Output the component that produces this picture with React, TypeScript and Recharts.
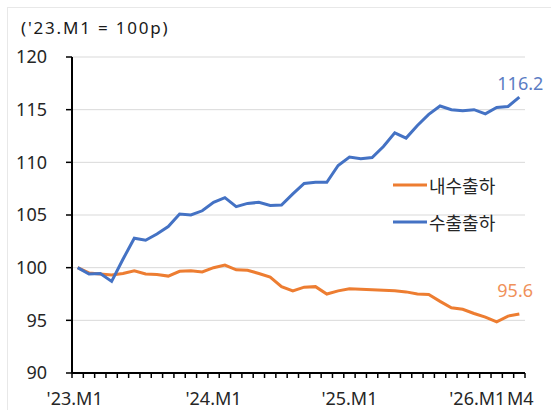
import React from "react";
import { LineChart, Line, XAxis, YAxis, CartesianGrid } from "recharts";

const months = [
  "23.01","23.02","23.03","23.04","23.05","23.06","23.07","23.08","23.09","23.10","23.11","23.12",
  "24.01","24.02","24.03","24.04","24.05","24.06","24.07","24.08","24.09","24.10","24.11","24.12",
  "25.01","25.02","25.03","25.04","25.05","25.06","25.07","25.08","25.09","25.10","25.11","25.12",
  "26.01","26.02","26.03","26.04",
];

const domestic = [
  100, 99.5, 99.4, 99.3, 99.45, 99.7, 99.4, 99.35, 99.2, 99.65, 99.7, 99.6,
  100.0, 100.25, 99.8, 99.75, 99.45, 99.1, 98.2, 97.8, 98.15, 98.2, 97.5, 97.8,
  98.0, 97.95, 97.9, 97.85, 97.8, 97.7, 97.5, 97.45, 96.8, 96.2, 96.05, 95.65,
  95.3, 94.85, 95.4, 95.6,
];

const exports_ = [
  100, 99.4, 99.45, 98.7, 100.8, 102.8, 102.6, 103.2, 103.9, 105.1, 105.0, 105.4,
  106.2, 106.65, 105.8, 106.1, 106.2, 105.9, 105.95, 107.0, 108.0, 108.1, 108.1, 109.7,
  110.5, 110.35, 110.45, 111.5, 112.8, 112.3, 113.5, 114.55, 115.35, 115.0, 114.9, 115.0,
  114.6, 115.2, 115.3, 116.2,
];

const seriesNames = ["내수출하", "수출출하"];
const seriesColors = ["#ED7D31", "#4472C4"];
const labelColors = ["#F0915A", "#5B7DC4"];

const tickLabels = ["'23.M1", "'24.M1", "'25.M1", "'26.M1", "M4"];
const tickLabelIndex = [0, 12, 24, 36, 39];
const yTicks = [90, 95, 100, 105, 110, 115, 120];

const data = months.map((m, i) => ({ idx: i, month: m, domestic: domestic[i], exports: exports_[i] }));

const boundaryTicks = months.map((_, i) => i - 0.5).concat([months.length - 0.5]);
const allTicks = boundaryTicks.concat(tickLabelIndex);

const NUM_FONT = "'Noto Sans', 'Liberation Sans', sans-serif";
const KR_FONT = "'Noto Sans CJK KR', 'Noto Sans', sans-serif";

const labelDx: Record<number, number> = { 0: -3, 12: 0, 24: 0, 36: -8, 39: 1 };

const XTick = (props: any) => {
  const { x, y, payload } = props;
  const v = payload.value;
  if (Number.isInteger(v)) {
    const k = tickLabelIndex.indexOf(v);
    if (k < 0) return null;
    return (
      <text x={x + (labelDx[v] || 0)} y={y + 32} textAnchor="middle" fontSize={18} fill="#262626" fontFamily={NUM_FONT}>
        {tickLabels[k]}
      </text>
    );
  }
  return <line x1={x} x2={x} y1={y} y2={y + 5} stroke="#000" strokeWidth={1.5} />;
};

const makeEndLabel = (text: string, color: string, dx: number, dy: number) => (props: any) => {
  const { x, y, index } = props;
  if (index !== months.length - 1) return null;
  return (
    <text x={x + dx} y={y + dy} fontSize={18} fill={color} fontFamily={NUM_FONT}>
      {text}
    </text>
  );
};

const LegendBox = () => (
  <div style={{ position: "absolute", left: 393, top: 166, fontFamily: KR_FONT, fontSize: 18, color: "#262626" }}>
    {seriesNames.map((n, i) => (
      <div key={n} style={{ display: "flex", alignItems: "center", height: 37 }}>
        <svg width={34} height={6} style={{ marginRight: 2 }}>
          <line x1={0} x2={34} y1={3} y2={3} stroke={seriesColors[i]} strokeWidth={3} />
        </svg>
        <span>{n}</span>
      </div>
    ))}
  </div>
);

export default function App() {
  return (
    <div style={{ position: "absolute", left: 0, top: 0, width: 551, height: 410, background: "#fff", overflow: "hidden" }}>
      <div style={{ position: "absolute", left: 7, top: 7, width: 560, height: 420, borderTop: "1px solid #e8e8e8", borderLeft: "1px solid #e8e8e8" }} />
      <div style={{ position: "absolute", left: 21, top: 16, fontFamily: NUM_FONT, fontSize: 17, letterSpacing: 1.8, color: "#1a1a1a", whiteSpace: "nowrap" }}>
        ('23.M1 = 100p)
      </div>
      <div style={{ position: "absolute", left: 0, top: 0 }}>
        <LineChart width={551} height={410} data={data} margin={{ top: 57, right: 26, bottom: 0, left: 0 }}>
          <CartesianGrid vertical={false} stroke="#d9d9d9" strokeWidth={1} />
          <XAxis
            dataKey="idx"
            type="number"
            domain={[-0.5, 39.5]}
            ticks={allTicks}
            interval={0}
            tickSize={0}
            tickMargin={0}
            tickLine={false}
            axisLine={{ stroke: "#000", strokeWidth: 2 }}
            tick={<XTick />}
            height={37}
            allowDecimals
          />
          <YAxis
            domain={[90, 120]}
            ticks={yTicks}
            interval={0}
            width={72}
            tickSize={6}
            tickMargin={19}
            tickLine={{ stroke: "#000", strokeWidth: 1.5 }}
            axisLine={{ stroke: "#000", strokeWidth: 2 }}
            tick={{ fill: "#262626", fontSize: 18, fontFamily: NUM_FONT }}
          />
          <Line
            type="linear"
            dataKey="domestic"
            name={seriesNames[0]}
            stroke={seriesColors[0]}
            strokeWidth={3}
            dot={false}
            isAnimationActive={false}
            label={makeEndLabel("95.6", labelColors[0], -22, -17)}
          />
          <Line
            type="linear"
            dataKey="exports"
            name={seriesNames[1]}
            stroke={seriesColors[1]}
            strokeWidth={3}
            dot={false}
            isAnimationActive={false}
            label={makeEndLabel("116.2", labelColors[1], -22, -7)}
          />
        </LineChart>
      </div>
      <LegendBox />
    </div>
  );
}
